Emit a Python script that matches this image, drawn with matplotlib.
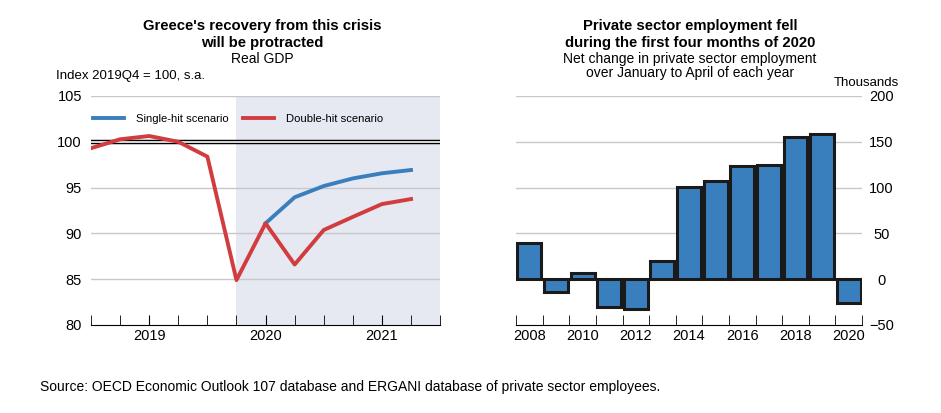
import matplotlib
matplotlib.use("Agg")
import matplotlib.pyplot as plt

plt.rcParams['font.family'] = ['Liberation Sans', 'DejaVu Sans']

# left panel: real GDP, quarterly, index 2019Q4 = 100
quarters = list(range(12))
double_hit = [99.3, 100.27, 100.63, 100.0, 98.38, 84.9, 91.1, 86.6, 90.37, 91.8, 93.2, 93.75]
single_q = [6, 7, 8, 9, 10, 11]
single_hit = [91.1, 93.94, 95.17, 96.0, 96.56, 96.92]
year_pos = [2, 6, 10]
year_labels = ['2019', '2020', '2021']

# right panel: net change in private sector employment, Jan-Apr, thousands
years = list(range(2008, 2021))
emp_change = [40, -13.5, 6.5, -30, -32, 20, 101, 107, 124, 125, 155.5, 158.7, -26]

BLUE = '#3a7fbd'
RED = '#d13c3f'
SHADE = '#e6e9f2'
GRID = '#c8c8c8'

fig = plt.figure(figsize=(9.41, 4.13), dpi=100)

# ---- left chart
ax1 = fig.add_axes([0.0967, 0.2131, 0.371, 0.5545])
ax1.axvspan(5, 12, color=SHADE, lw=0, zorder=0)
for v in [85, 90, 95, 105]:
    ax1.axhline(v, color=GRID, lw=1, zorder=1)
ax1.axhline(100, color='black', lw=3.2, zorder=2)
ax1.axhline(100, color='white', lw=1.2, zorder=2)
ax1.plot(single_q, single_hit, color=BLUE, lw=2.8, label='Single-hit scenario', zorder=3)
ax1.plot(quarters, double_hit, color=RED, lw=2.8, label='Double-hit scenario', zorder=4)
ax1.set_xlim(0, 12)
ax1.set_ylim(80, 105)
ax1.set_yticks([80, 85, 90, 95, 100, 105])
ax1.set_xticks(range(13), minor=True)
ax1.set_xticks(year_pos)
ax1.set_xticklabels(year_labels)
ax1.tick_params(axis='x', which='both', direction='in', length=7, color='black', labelsize=10.5, pad=3)
ax1.tick_params(axis='y', length=0, labelsize=10.5, pad=6.5)
for s in ['top', 'left', 'right']:
    ax1.spines[s].set_visible(False)
ax1.spines['bottom'].set_color('black')
leg = ax1.legend(ncol=2, frameon=False, loc='upper left', bbox_to_anchor=(-0.022, 0.965),
                 handlelength=2.75, columnspacing=1.25, handletextpad=1.07, fontsize=8.1)

fig.text(0.279, 0.955, "Greece's recovery from this crisis\nwill be protracted", ha='center', va='top',
         fontsize=10.7, fontweight='bold', linespacing=1.3)
fig.text(0.279, 0.875, 'Real GDP', ha='center', va='top', fontsize=10)
fig.text(0.06, 0.815, 'Index 2019Q4 = 100, s.a.', ha='left', va='center', fontsize=9.5)

# ---- right chart
ax2 = fig.add_axes([0.5484, 0.2131, 0.3677, 0.5545])
for v in [50, 100, 150, 200]:
    ax2.axhline(v, color=GRID, lw=1, zorder=1)
ax2.bar(years, emp_change, width=0.9, color=BLUE, edgecolor='#1a1a1a', lw=2.2, zorder=2)
ax2.axhline(0, color='#1a1a1a', lw=2, zorder=3)
ax2.set_xlim(2007.5, 2020.5)
ax2.set_ylim(-50, 200)
ax2.set_yticks([-50, 0, 50, 100, 150, 200])
ax2.yaxis.tick_right()
ax2.set_xticks(range(2008, 2021, 2))
ax2.set_xticks([y + 0.5 for y in range(2007, 2021)], minor=True)
ax2.tick_params(axis='x', which='major', length=0, labelsize=10.5, pad=3)
ax2.tick_params(axis='x', which='minor', direction='in', length=7, color='black')
ax2.tick_params(axis='y', length=0, labelsize=10.5, pad=14)
for lab in ax2.get_yticklabels():
    lab.set_horizontalalignment('center')
for s in ['top', 'left', 'right']:
    ax2.spines[s].set_visible(False)

fig.text(0.733, 0.955, 'Private sector employment fell\nduring the first four months of 2020', ha='center',
         va='top', fontsize=10.7, fontweight='bold', linespacing=1.3)
fig.text(0.733, 0.875, 'Net change in private sector employment\nover January to April of each year',
         ha='center', va='top', fontsize=10, linespacing=1.05)
fig.text(0.9555, 0.8, 'Thousands', ha='right', va='center', fontsize=9.5)

fig.text(0.043, 0.063, 'Source: OECD Economic Outlook 107 database and ERGANI database of private sector employees.',
         ha='left', va='center', fontsize=10)

fig.savefig('out.png', dpi=100)
